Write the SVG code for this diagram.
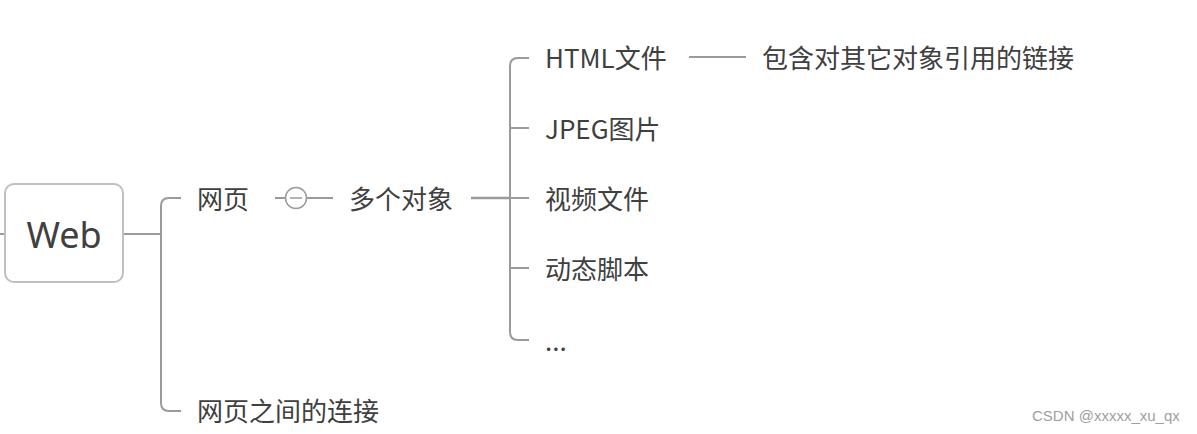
<svg xmlns="http://www.w3.org/2000/svg" width="1197" height="434" viewBox="0 0 1197 434">
<style>
.t{font-family:"Noto Sans CJK SC","Noto Sans",sans-serif;font-size:26px;fill:#404040;dominant-baseline:central}
.c{fill:none;stroke:#9a9a9a;stroke-width:2}
.w{font-family:"Liberation Sans",sans-serif;font-size:15px;fill:#a0a0a0}
</style>
<rect width="1197" height="434" fill="#fff"/>
<g id="connectors">
<path class="c" d="M0 234H6"/>
<path class="c" d="M123 234H161"/>
<path class="c" d="M181 198H169Q161 198 161 206V403Q161 411 169 411H181"/>
<path class="c" d="M275 198H285M307 198H333"/>
<path class="c" d="M471 198H510" style="stroke-width:2.5"/>
<path class="c" d="M529 58H518Q510 58 510 66V332Q510 340 518 340H529"/>
<path class="c" d="M510 128H529M510 198H529M510 268H529"/>
<path class="c" d="M689 57H746"/>
</g>
<g id="web">
<rect x="5" y="184" width="118" height="98" rx="9" fill="#fff" stroke="#c0c0c0" stroke-width="2"/>
<text x="64" y="234" text-anchor="middle" style="font-family:'Noto Sans','Noto Sans CJK SC',sans-serif;font-size:36px;fill:#404040;dominant-baseline:central">Web</text>
</g>
<g id="wangye"><text class="t" x="197" y="197">网页</text></g>
<g id="collapse"><circle cx="296" cy="198" r="10.5" fill="#fff" stroke="#9a9a9a" stroke-width="1.5"/><path d="M290 198H302" stroke="#9a9a9a" stroke-width="1.5"/></g>
<g id="duoge"><text class="t" x="349" y="197">多个对象</text></g>
<g id="html"><text class="t" x="545" y="56">HTML文件</text></g>
<g id="html-note"><text class="t" x="762" y="56">包含对其它对象引用的链接</text></g>
<g id="jpeg"><text class="t" x="545" y="127">JPEG图片</text></g>
<g id="video"><text class="t" x="545" y="197">视频文件</text></g>
<g id="script"><text class="t" x="545" y="267">动态脚本</text></g>
<g id="more"><text class="t" x="545" y="339">...</text></g>
<g id="links"><text class="t" x="197" y="409">网页之间的连接</text></g>
<text class="w" x="1032" y="421">CSDN @xxxxx_xu_qx</text>
</svg>
